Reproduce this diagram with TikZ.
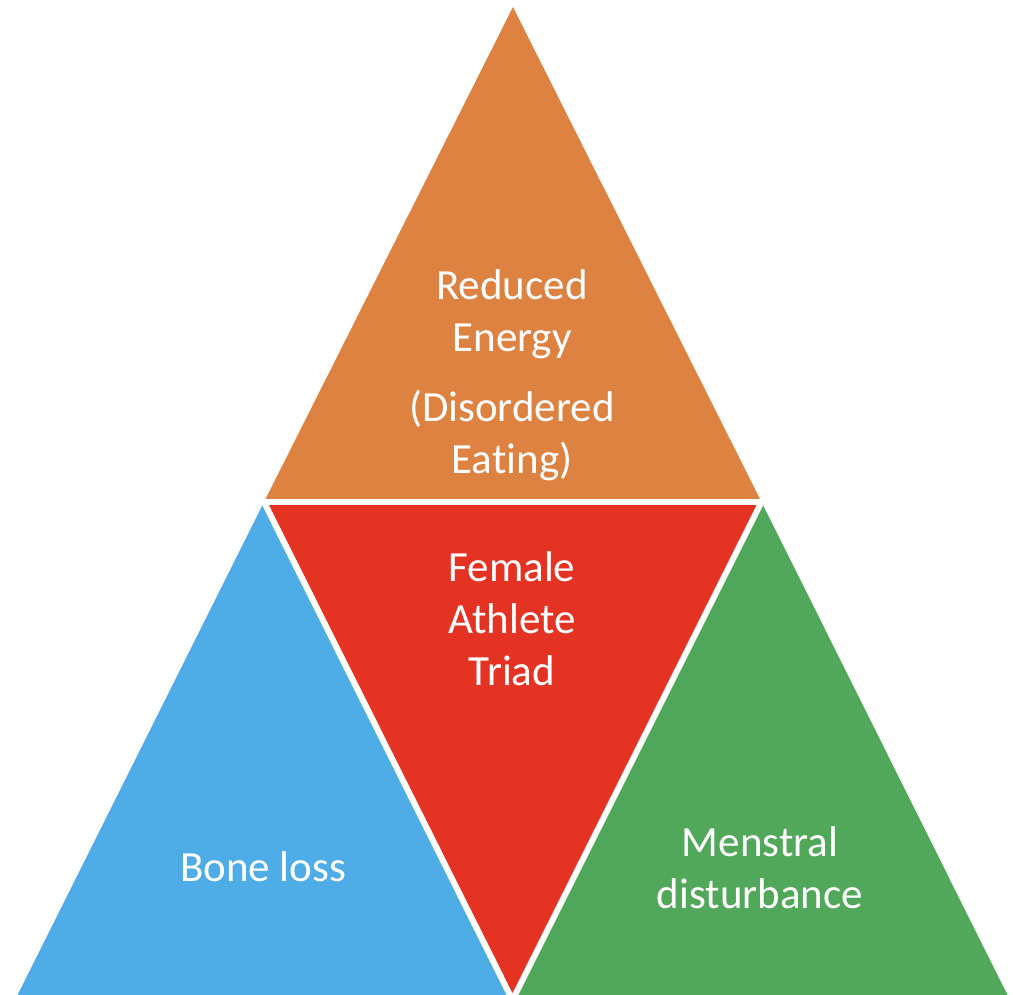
\documentclass[tikz,border=0pt]{standalone}
\usepackage{fontspec}
\setmainfont{Carlito}[Ligatures=NoCommon]
\definecolor{triorange}{RGB}{222,130,66}
\definecolor{trired}{RGB}{229,51,35}
\definecolor{triblue}{RGB}{78,172,230}
\definecolor{trigreen}{RGB}{82,168,90}
\begin{document}
\begin{tikzpicture}[x=1pt,y=-1pt,
  label/.style={text=white,align=center,font=\fontsize{43}{52}\selectfont,inner sep=0pt},
  gap/.style={draw=white,line width=6pt}]
\useasboundingbox (0,0) rectangle (1015,994);
\clip (0,0) rectangle (1015,994);
% outer corners and edge midpoints
\coordinate (A) at (513,7);
\coordinate (B) at (15,1000);
\coordinate (C) at (1010,1000);
\coordinate (AB) at (264,502);
\coordinate (AC) at (761.5,502);
\coordinate (BC) at (512.5,1000);
% four sub-triangles
\fill[triorange] (A) -- (AB) -- (AC) -- cycle;
\fill[trired] (AB) -- (AC) -- (BC) -- cycle;
\fill[triblue] (AB) -- (B) -- (BC) -- cycle;
\fill[trigreen] (AC) -- (BC) -- (C) -- cycle;
% white separators
\draw[gap] (AB) -- (AC);
\draw[gap] (AB) -- (BC) -- (AC);
% labels
\node[label] (energy) at (512,375) {Reduced\\Energy\\[18pt](Disordered\\Eating)};
\node[label] (triad) at (512,619) {Female\\Athlete\\Triad};
\node[label] (bone) at (263,867) {Bone loss};
\node[label] (menstral) at (760,868) {Menstral\\disturbance};
\end{tikzpicture}
\end{document}
